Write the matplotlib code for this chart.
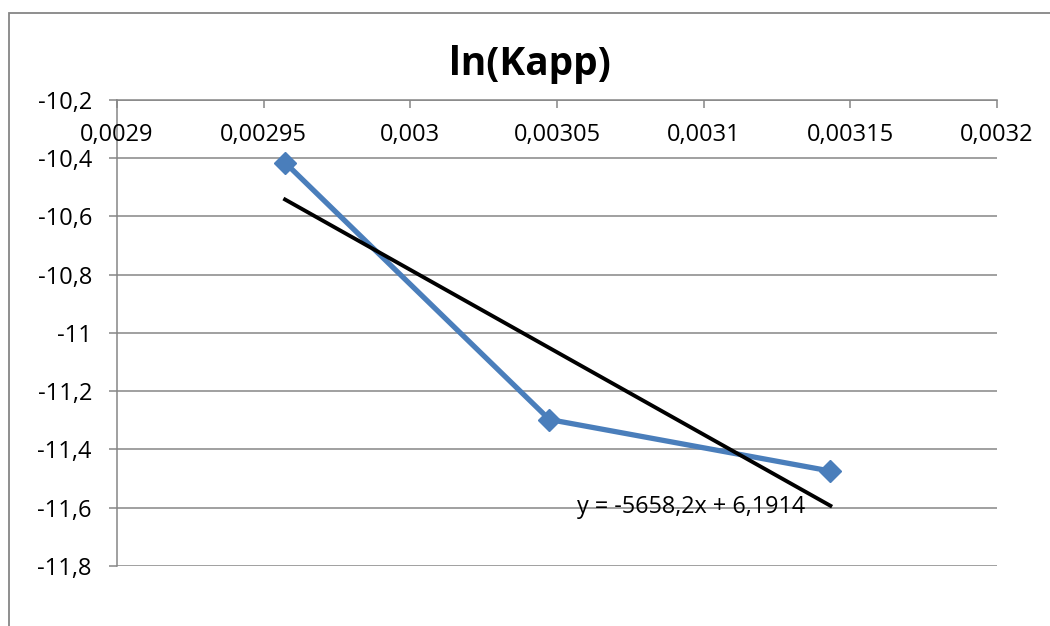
import numpy as np
import matplotlib
matplotlib.use("Agg")
import matplotlib.pyplot as plt
from matplotlib.patches import Rectangle
from matplotlib.ticker import FuncFormatter

# data: 1/T against ln(Kapp)
inv_T = [0.0029573, 0.0030474, 0.0031432]
ln_kapp = [-10.415, -11.297, -11.474]

x_ticks = [0.0029, 0.00295, 0.003, 0.00305, 0.0031, 0.00315, 0.0032]
y_ticks = [-10.2, -10.4, -10.6, -10.8, -11.0, -11.2, -11.4, -11.6, -11.8]
eq_label = "y = -5658,2x + 6,1914"

grid_col = "#868686"
line_col = "#4A7EBB"

plt.rcParams['font.family'] = ['Open Sans', 'DejaVu Sans']

fig = plt.figure(figsize=(10.5, 6.26), dpi=100)
ax = fig.add_axes([117/1050, 1 - 566/626, 880/1050, 466/626])

# outer chart frame (cut off at right/bottom like the screenshot)
fig.patches.append(Rectangle((9/1050, -0.1), 1.2, 1 - 13/626 + 0.1, transform=fig.transFigure,
                             fill=False, edgecolor=grid_col, linewidth=1.3))

ax.plot(inv_T, ln_kapp, color=line_col, linewidth=3.8, marker='D', markersize=11,
        markerfacecolor=line_col, markeredgecolor=line_col, zorder=3)

# linear trendline
coef = np.polyfit(inv_T, ln_kapp, 1)
tx = np.array([inv_T[0], inv_T[-1]])
ax.plot(tx, np.polyval(coef, tx), color="black", linewidth=2.8, zorder=4)

ax.text(0.0030568, -11.597, eq_label, ha='left', va='center', fontsize=16.8, zorder=5)

ax.set_xlim(0.0029, 0.0032)
ax.set_ylim(-11.8, -10.2)
ax.set_yticks(y_ticks)
ax.yaxis.set_major_formatter(FuncFormatter(lambda v, p: f"{v:g}".replace(".", ",")))
ax.grid(axis='y', color=grid_col, linewidth=1.1)
ax.set_axisbelow(True)

for s in ["right", "bottom"]:
    ax.spines[s].set_visible(False)
for s in ["left", "top"]:
    ax.spines[s].set_color(grid_col)
    ax.spines[s].set_linewidth(1.1)

ax.tick_params(axis='y', length=6, width=1.1, color=grid_col, pad=12, labelsize=17)
ax.set_xticks(x_ticks)
ax.tick_params(axis='x', top=True, bottom=False, labelbottom=False, labeltop=False,
               direction='in', length=6, width=1.1, color=grid_col)

# x labels sit just under the top axis line
for xv in x_ticks:
    lbl = f"{xv:.5f}".rstrip("0").replace(".", ",")
    ax.annotate(lbl, xy=(xv, 1), xycoords=('data', 'axes fraction'), xytext=(0, -35),
                textcoords='offset pixels', ha='center', va='center', fontsize=17)

fig.text(530/1050, 1 - 65/626, "ln(Kapp)", ha='center', va='center', fontsize=28, fontweight='bold')

fig.savefig("out.png", dpi=100)
